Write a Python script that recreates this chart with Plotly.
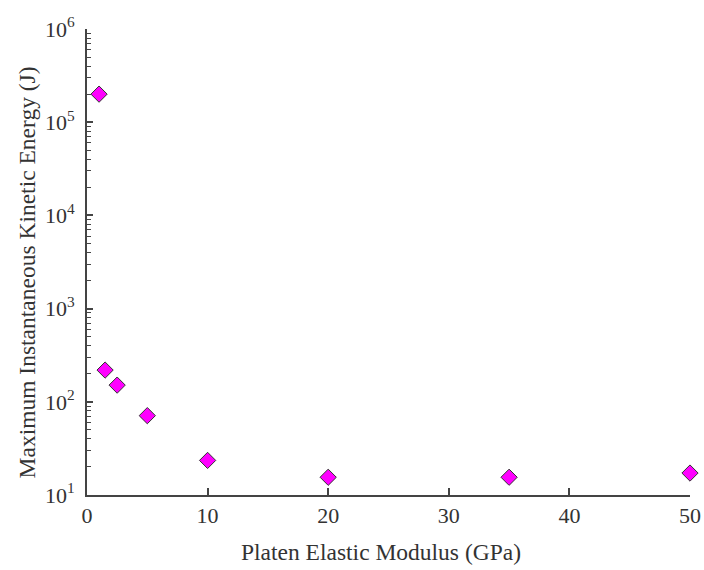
import plotly.graph_objects as go

modulus = [1, 1.5, 2.5, 5, 10, 20, 35, 50]
energy = [2.0e5, 219, 151, 71, 23.5, 15.5, 15.5, 17.2]

decades = [1, 2, 3, 4, 5, 6]
major_vals = [10 ** d for d in decades]
major_text = ["10<sup>%d</sup>" % d for d in decades]
minor_vals = [m * 10 ** d for d in decades[:-1] for m in range(2, 10)]

x_title = "Platen Elastic Modulus (GPa)"
y_title = "Maximum Instantaneous Kinetic Energy (J)"

font_family = "Liberation Serif, Times New Roman, serif"
axis_color = "#444444"

fig = go.Figure()
fig.add_trace(go.Scatter(
    x=modulus, y=energy, mode="markers",
    marker=dict(symbol="diamond", size=12.5, color="#ff00ff",
                line=dict(color="#333333", width=1)),
    cliponaxis=False,
    showlegend=False,
))

fig.update_layout(
    width=704, height=570,
    margin=dict(l=87, r=14, t=29, b=75),
    plot_bgcolor="white", paper_bgcolor="white",
    font=dict(family=font_family, size=22, color="#333333"),
    xaxis=dict(
        range=[0, 50], tickvals=[0, 10, 20, 30, 40, 50],
        ticks="inside", ticklen=7, tickwidth=1.5, tickcolor=axis_color,
        showline=True, linecolor=axis_color, linewidth=2,
        showgrid=False, zeroline=False, automargin=False,
    ),
    yaxis=dict(
        type="log", range=[1, 6],
        tickvals=major_vals, ticktext=major_text,
        ticks="inside", ticklen=6, tickwidth=1.5, tickcolor=axis_color,
        minor=dict(tickvals=minor_vals, ticks="inside", ticklen=4,
                   tickwidth=1.2, tickcolor=axis_color),
        showline=True, linecolor=axis_color, linewidth=2,
        showgrid=False, zeroline=False, automargin=False,
        ticklabelstandoff=6,
    ),
    annotations=[
        dict(text=x_title, xref="paper", yref="paper", x=0.4876, y=-0.122,
             xanchor="center", yanchor="middle", showarrow=False,
             font=dict(size=23.5)),
        dict(text=y_title, xref="paper", yref="paper", x=-0.0988, y=0.4785,
             xanchor="center", yanchor="middle", showarrow=False, textangle=-90,
             font=dict(size=23.5)),
    ],
)

fig.write_html("out.html")
